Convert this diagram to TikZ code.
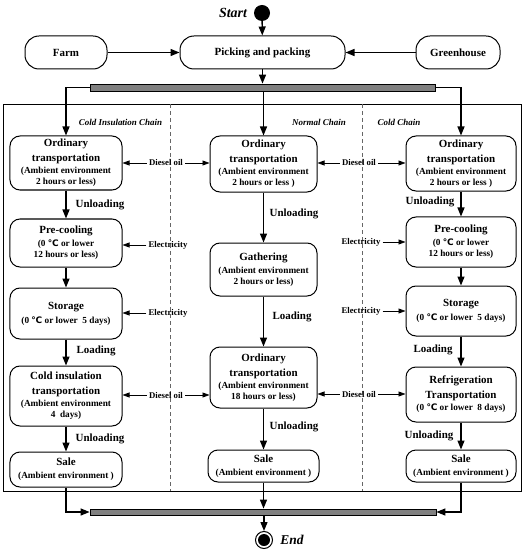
\documentclass[tikz,border=0pt]{standalone}
\usepackage{fontspec}
\setmainfont{Liberation Serif}
\newfontfamily\symf{DejaVu Sans}
\usetikzlibrary{arrows.meta,positioning}
\newcommand{\tl}[1]{{\fontsize{11}{13}\selectfont #1}}
\newcommand{\dg}{{\symf\fontsize{9}{10}\selectfont ℃}}
\begin{document}
\begin{tikzpicture}[x=1bp,y=-1bp,
  box/.style={draw, line width=1bp, rounded corners=10bp, align=center, inner sep=1bp,
    font=\fontsize{9.3}{11}\selectfont\bfseries},
  topbox/.style={draw, line width=1bp, rounded corners=14bp, align=center,
    minimum height=33bp, font=\fontsize{11}{13}\selectfont\bfseries},
  bar/.style={draw, fill=black!50, line width=0.8bp, inner sep=0pt},
  conn/.style={line width=1.3bp, -{Triangle[length=9bp,width=7bp]}},
  side/.style={line width=0.8bp, -{Triangle[length=7bp,width=5bp]}},
  lab/.style={font=\fontsize{11}{13}\selectfont\bfseries, inner sep=1bp},
  slab/.style={font=\fontsize{8.8}{10}\selectfont\bfseries, inner sep=2bp},
  clab/.style={font=\fontsize{9}{11}\selectfont\bfseries\itshape, inner sep=1bp}
]
\useasboundingbox (0,0) rectangle (525,550);

% frame and separators
\draw[line width=0.9bp] (3,104) rectangle (521,491);
\draw[dashed, black!60, line width=0.8bp, dash pattern=on 4bp off 3bp] (170,104) -- (170,491);
\draw[dashed, black!60, line width=0.8bp, dash pattern=on 4bp off 3bp] (362,104) -- (362,491);

% start
\node[circle, fill=black, minimum size=16bp, inner sep=0pt] (start) at (262,13) {};
\node[font=\fontsize{14}{16}\selectfont\bfseries\itshape] (startl) at (233,13) {Start};

% top row
\node[topbox, minimum width=82bp] (farm) at (66,52.5) {Farm};
\node[topbox, minimum width=165bp] (pick) at (262.5,52.5) {Picking and packing};
\node[topbox, minimum width=84bp] (green) at (458,52.5) {Greenhouse};
\node[bar, minimum width=345bp, minimum height=7bp] (bar1) at (262.5,87.5) {};

% column labels
\node[clab] (c1) at (120.5,122) {Cold Insulation Chain};
\node[clab] (c2) at (319,122) {Normal Chain};
\node[clab] (c3) at (399,122) {Cold Chain};

% left column
\node[box, minimum width=112bp, minimum height=54bp] (L1) at (66,163)
 {\tl{Ordinary}\\[4bp]\tl{transportation}\\[1bp](Ambient environment\\2 hours or less)};
\node[box, minimum width=112bp, minimum height=48bp] (L2) at (66,243)
 {\tl{Pre-cooling}\\[2bp](0 \dg{} or lower\\12 hours or less)};
\node[box, minimum width=112bp, minimum height=51bp] (L3) at (66,313.5)
 {\tl{Storage}\\[3bp](0 \dg{} or lower\ \ 5 days)};
\node[box, minimum width=112bp, minimum height=60bp] (L4) at (66,396)
 {\tl{Cold insulation}\\[4bp]\tl{transportation}\\[1bp](Ambient environment\\4\ \ days)};
\node[box, minimum width=112bp, minimum height=35bp] (L5) at (66,469.5)
 {\tl{Sale}\\[2bp](Ambient environment )};

% middle column
\node[box, minimum width=107bp, minimum height=56bp] (M1) at (263.5,164)
 {\tl{Ordinary}\\[4bp]\tl{transportation}\\[1bp](Ambient environment\\2 hours or less )};
\node[box, minimum width=107bp, minimum height=53bp] (M2) at (263.5,269.5)
 {\tl{Gathering}\\[2bp](Ambient environment\\2 hours or less)};
\node[box, minimum width=107bp, minimum height=61bp] (M3) at (263.5,377.5)
 {\tl{Ordinary}\\[4bp]\tl{transportation}\\[1bp](Ambient environment\\18 hours or less)};
\node[box, minimum width=111bp, minimum height=32bp] (M4) at (263.5,466)
 {\tl{Sale}\\[2bp](Ambient environment )};

% right column
\node[box, minimum width=110bp, minimum height=55bp] (R1) at (461,163.5)
 {\tl{Ordinary}\\[4bp]\tl{transportation}\\[1bp](Ambient environment\\2 hours or less )};
\node[box, minimum width=110bp, minimum height=50bp] (R2) at (461,242)
 {\tl{Pre-cooling}\\[2bp](0 \dg{} or lower\\12 hours or less)};
\node[box, minimum width=110bp, minimum height=50bp] (R3) at (461,311)
 {\tl{Storage}\\[3bp](0 \dg{} or lower\ \ 5 days)};
\node[box, minimum width=110bp, minimum height=55bp] (R4) at (461,394.5)
 {\tl{Refrigeration}\\[4bp]\tl{Transportation}\\[1bp](0 \dg{} or lower\ \ 8 days)};
\node[box, minimum width=110bp, minimum height=32bp] (R5) at (461,466)
 {\tl{Sale}\\[2bp](Ambient environment )};

% bottom bar and end
\node[bar, minimum width=346bp, minimum height=6bp] (bar2) at (263,512) {};
\node[circle, draw, line width=1bp, minimum size=17bp, inner sep=0pt] (endc) at (264,540) {};
\fill (endc.center) circle (6bp);
\node[font=\fontsize{13.5}{16}\selectfont\bfseries\itshape] (endl) at (292,540) {End};

% top connectors
\draw[conn] (start) -- (pick);
\draw[conn] (farm) -- (pick);
\draw[conn] (green) -- (pick);
\draw[conn] (pick) -- (pick.south |- bar1.north);
\draw[conn] (bar1.west) -| (L1.north);
\draw[conn] (bar1.east) -| (R1.north);
\draw[conn] (bar1.south -| M1.north) -- (M1.north);

% column flow
\draw[conn] (L1) -- (L2);
\draw[conn] (L2) -- (L3);
\draw[conn] (L3) -- (L4);
\draw[conn] (L4) -- (L5);
\draw[conn] (M1) -- (M2);
\draw[conn] (M2) -- (M3);
\draw[conn] (M3) -- (M4);
\draw[conn] (R1) -- (R2);
\draw[conn] (R2) -- (R3);
\draw[conn] (R3) -- (R4);
\draw[conn] (R4) -- (R5);

% flow labels
\node[lab] (lu1) at (100,205) {Unloading};
\node[lab] (ll1) at (96,351) {Loading};
\node[lab] (lu2) at (100,439) {Unloading};
\node[lab] (mu1) at (294,214) {Unloading};
\node[lab] (ml1) at (292,317) {Loading};
\node[lab] (mu2) at (294,427) {Unloading};
\node[lab] (ru1) at (430,202) {Unloading};
\node[lab] (rl1) at (433,350) {Loading};
\node[lab] (ru2) at (429,436) {Unloading};

% energy inputs
\node[slab] (dl1) at (166,163) {Diesel oil};
\node[slab] (el1) at (168,245) {Electricity};
\node[slab] (el2) at (168,313) {Electricity};
\node[slab] (dl2) at (166,395) {Diesel oil};
\node[slab] (dr1) at (359,163) {Diesel oil};
\node[slab] (er1) at (361,242) {Electricity};
\node[slab] (er2) at (361,311) {Electricity};
\node[slab] (dr2) at (359,394) {Diesel oil};

\draw[side] (dl1.west) -- (dl1.west -| L1.east);
\draw[side] (dl1.east) -- (dl1.east -| M1.west);
\draw[side] (el1.west) -- (el1.west -| L2.east);
\draw[side] (el2.west) -- (el2.west -| L3.east);
\draw[side] (dl2.west) -- (dl2.west -| L4.east);
\draw[side] (dl2.east) -- (dl2.east -| M3.west);
\draw[side] (dr1.west) -- (dr1.west -| M1.east);
\draw[side] (dr1.east) -- (dr1.east -| R1.west);
\draw[side] (er1.east) -- (er1.east -| R2.west);
\draw[side] (er2.east) -- (er2.east -| R3.west);
\draw[side] (dr2.west) -- (dr2.west -| M3.east);
\draw[side] (dr2.east) -- (dr2.east -| R4.west);

% bottom connectors
\draw[conn] (L5.south) |- (bar2.west);
\draw[conn] (R5.south) |- (bar2.east);
\draw[conn] (M4.south) -- (M4.south |- bar2.north);
\draw[conn] (bar2.south -| endc.north) -- (endc.north);
\end{tikzpicture}
\end{document}
